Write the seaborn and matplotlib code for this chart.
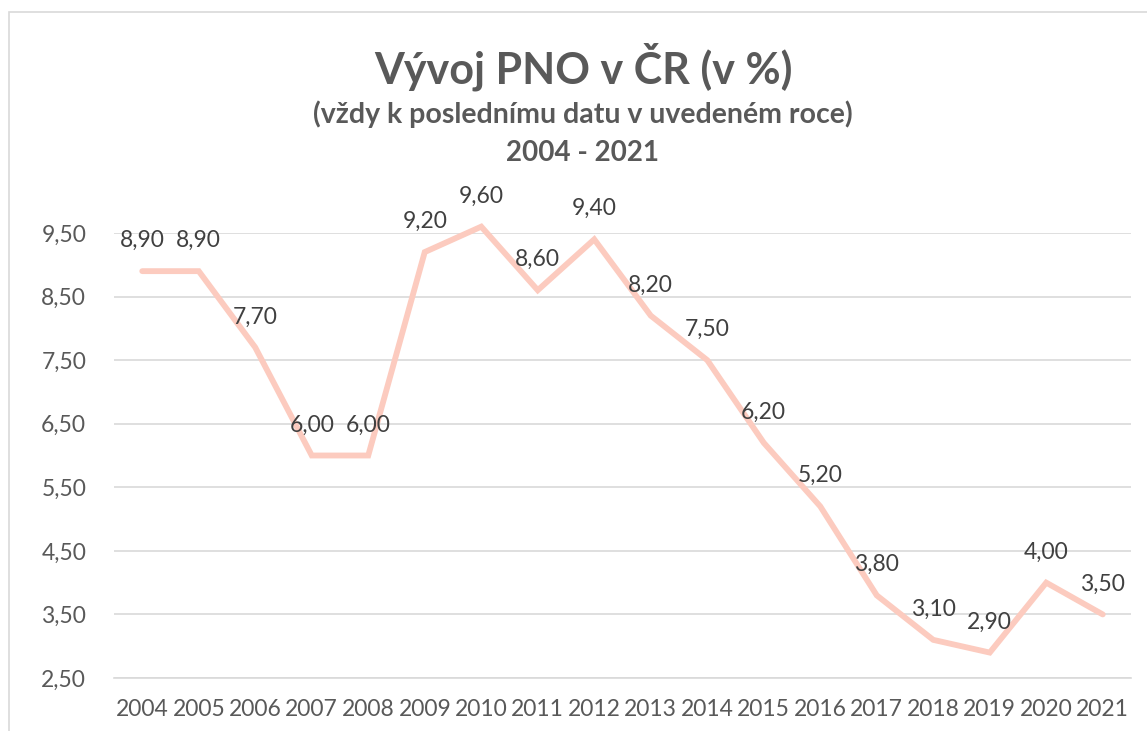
import numpy as np
import matplotlib.pyplot as plt
import seaborn as sns
from matplotlib.patches import Rectangle

years = ['2004', '2005', '2006', '2007', '2008', '2009', '2010', '2011', '2012',
         '2013', '2014', '2015', '2016', '2017', '2018', '2019', '2020', '2021']
pno = [8.90, 8.90, 7.70, 6.00, 6.00, 9.20, 9.60, 8.60, 9.40,
       8.20, 7.50, 6.20, 5.20, 3.80, 3.10, 2.90, 4.00, 3.50]
y_ticks = [2.5, 3.5, 4.5, 5.5, 6.5, 7.5, 8.5, 9.5]

sns.set_style('white')
plt.rcParams['font.family'] = ['Lato', 'DejaVu Sans']
txt = '#595959'
grid = '#D9D9D9'

fig = plt.figure(figsize=(11.47, 7.31), dpi=100)
fig.patches.append(Rectangle((9 / 1147, -0.1), 1.2, 1 - 12 / 731 + 0.1, transform=fig.transFigure,
                             fill=False, edgecolor=grid, linewidth=1.2))
ax = fig.add_axes([114 / 1147, 1 - 678 / 731, (1131 - 114) / 1147, (678 - 233) / 731])

x = np.arange(len(years))
sns.lineplot(x=x, y=pno, ax=ax, color='#FCCBBF', linewidth=4.2, clip_on=False,
             solid_joinstyle='miter')

for xi, v in zip(x, pno):
    ax.annotate(f'{v:.2f}'.replace('.', ','), (xi, v), xytext=(0, 22), textcoords='offset points',
                ha='center', va='center', fontsize=16.5, color='#404040', annotation_clip=False)

ax.set_xlim(-0.5, len(years) - 0.5)
ax.set_ylim(2.5, 9.5)
ax.set_yticks(y_ticks)
ax.set_yticklabels([f'{t:.2f}'.replace('.', ',') for t in y_ticks])
ax.set_xticks(x)
ax.set_xticklabels(years)
ax.set_xticks(np.arange(-0.5, len(years)), minor=True)
ax.tick_params(axis='x', which='major', length=0, pad=15, labelsize=16.5, labelcolor=txt)
ax.tick_params(axis='x', which='minor', length=6, color=grid, width=1.2, direction='out')
ax.tick_params(axis='y', length=0, pad=20, labelsize=16.5, labelcolor=txt)
ax.yaxis.grid(True, color=grid, linewidth=1.2)
ax.set_axisbelow(True)
for s in ['top', 'right', 'left']:
    ax.spines[s].set_visible(False)
ax.spines['bottom'].set_color(grid)
ax.spines['bottom'].set_linewidth(1.2)

fig.text(583 / 1147, 1 - 67 / 731, 'Vývoj PNO v ČR (v %)', ha='center', va='center',
         fontsize=31, fontweight='bold', color=txt)
fig.text(583 / 1147, 1 - 114 / 731, '(vždy k poslednímu datu v uvedeném roce)', ha='center',
         va='center', fontsize=20.5, fontweight='bold', color=txt)
fig.text(583 / 1147, 1 - 153 / 731, '2004 - 2021', ha='center', va='center',
         fontsize=20, fontweight='bold', color=txt)

fig.savefig('out.png', dpi=100)
